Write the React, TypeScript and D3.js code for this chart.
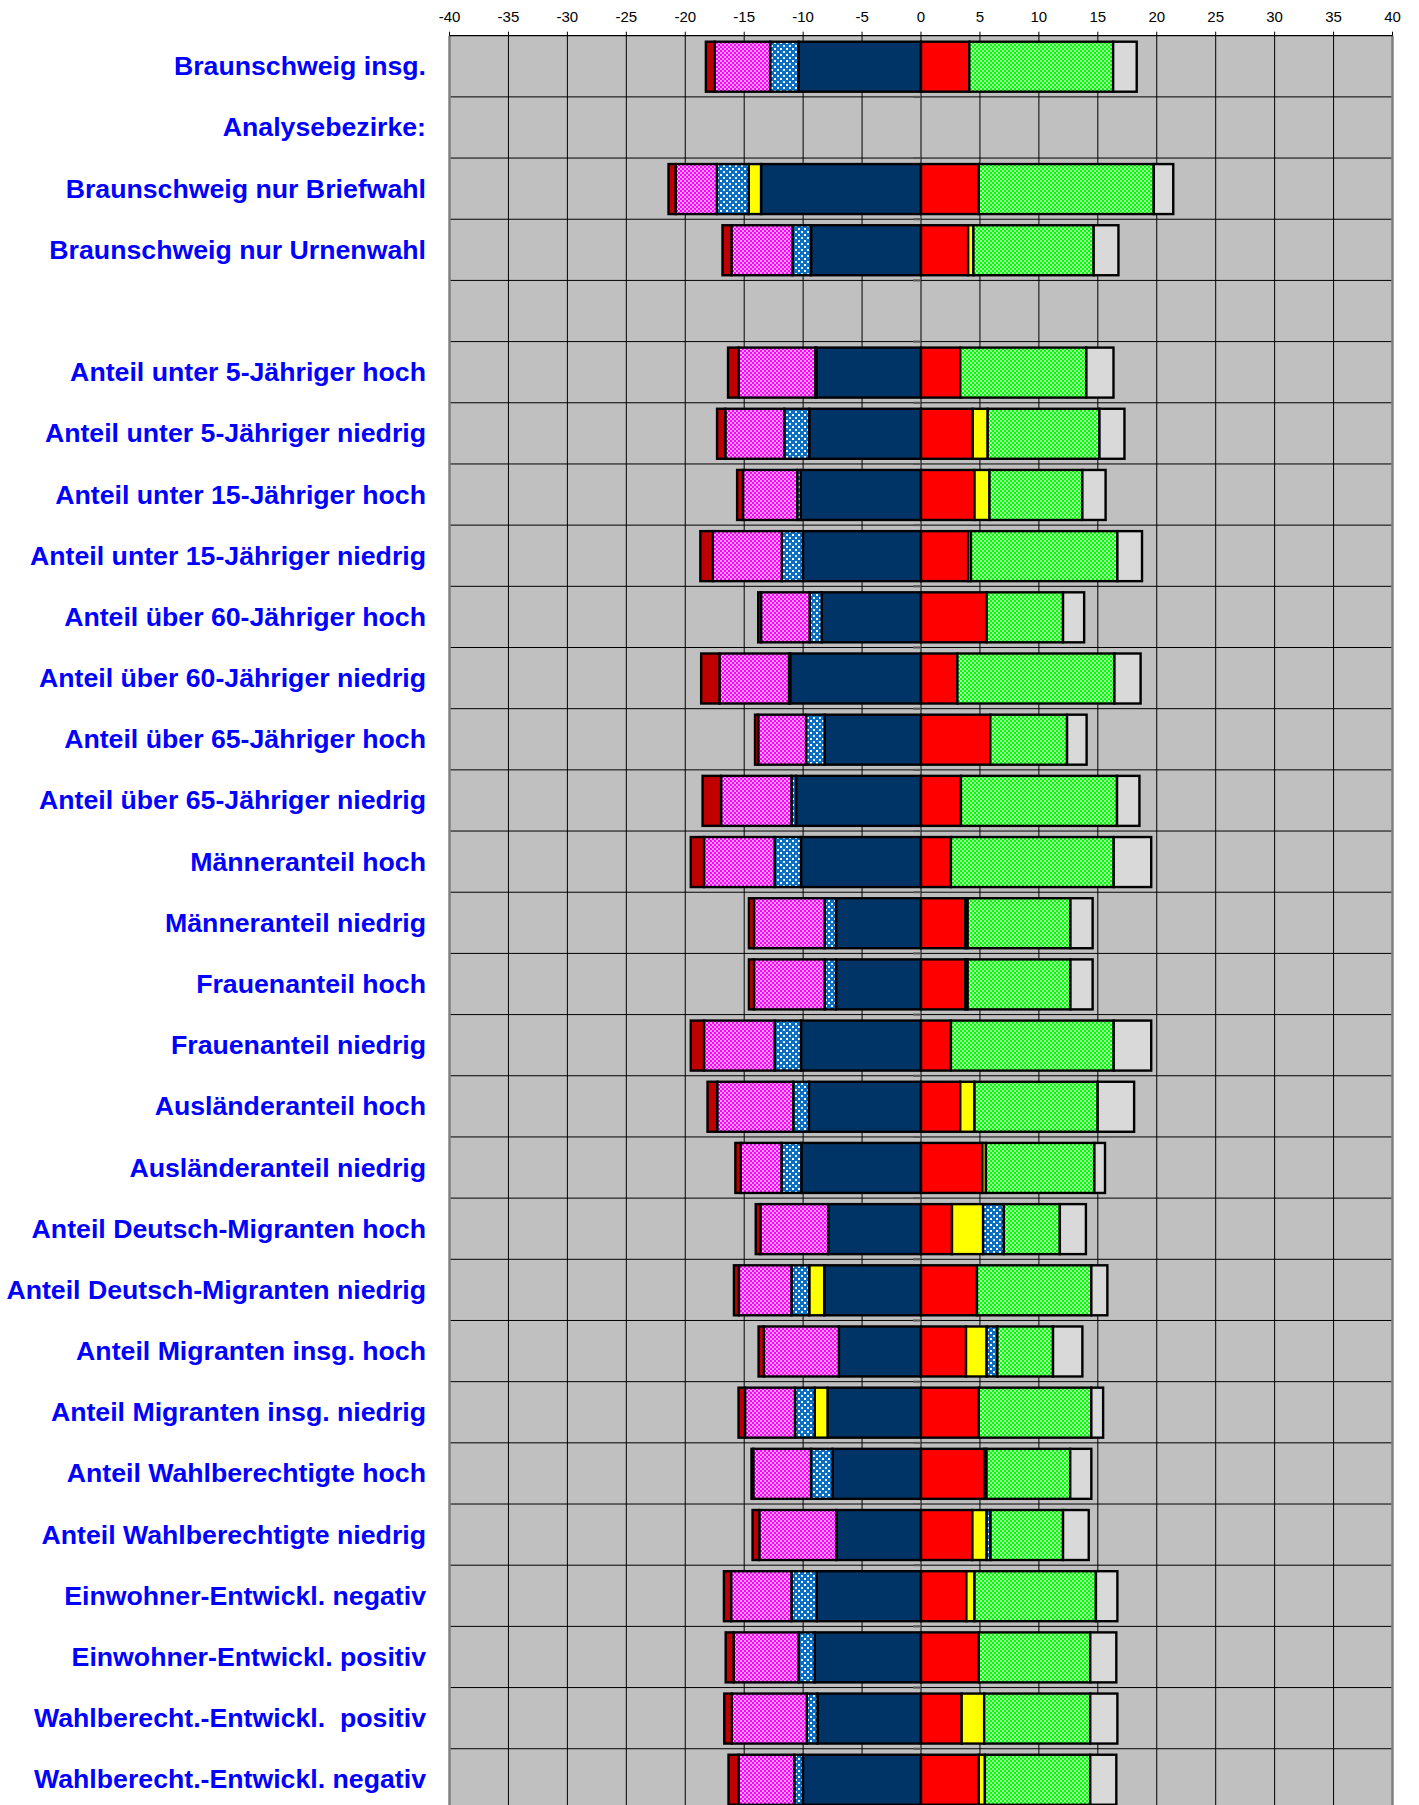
import { scaleLinear, scaleBand, stack, stackOffsetDiverging, range } from "d3";

// Zeilen (Kategorien) von oben nach unten; "" = Leerzeile
const categories = [
  "Braunschweig insg.",
  "Analysebezirke:",
  "Braunschweig nur Briefwahl",
  "Braunschweig nur Urnenwahl",
  "",
  "Anteil unter 5-Jähriger hoch",
  "Anteil unter 5-Jähriger niedrig",
  "Anteil unter 15-Jähriger hoch",
  "Anteil unter 15-Jähriger niedrig",
  "Anteil über 60-Jähriger hoch",
  "Anteil über 60-Jähriger niedrig",
  "Anteil über 65-Jähriger hoch",
  "Anteil über 65-Jähriger niedrig",
  "Männeranteil hoch",
  "Männeranteil niedrig",
  "Frauenanteil hoch",
  "Frauenanteil niedrig",
  "Ausländeranteil hoch",
  "Ausländeranteil niedrig",
  "Anteil Deutsch-Migranten hoch",
  "Anteil Deutsch-Migranten niedrig",
  "Anteil Migranten insg. hoch",
  "Anteil Migranten insg. niedrig",
  "Anteil Wahlberechtigte hoch",
  "Anteil Wahlberechtigte niedrig",
  "Einwohner-Entwickl. negativ",
  "Einwohner-Entwickl. positiv",
  "Wahlberecht.-Entwickl.  positiv",
  "Wahlberecht.-Entwickl. negativ",
];

// Gewinne/Verluste in Prozentpunkten, je Reihe (null = keine Balken)
const dunkelblau = [-10.4, null, -13.57, -9.33, null, -8.87, -9.48, -10.2, -10.02, -8.42, -11.1, -8.18, -10.6, -10.18, -7.21, -7.21, -10.18, -9.51, -10.15, -7.87, -8.21, -6.97, -7.93, -7.51, -7.18, -8.84, -9.02, -8.78, -10.02];
const rot = [4.1, null, 4.9, 4.0, null, 3.33, 4.39, 4.54, 4.0, 5.57, 3.09, 5.88, 3.39, 2.54, 3.76, 3.76, 2.54, 3.33, 5.21, 2.63, 4.75, 3.82, 4.9, 5.36, 4.36, 3.85, 4.9, 3.45, 4.9];
const gelb = [0, null, -1.05, 0.45, null, 0, 1.27, 1.27, 0.24, 0, 0, 0, 0, 0, 0.2, 0.2, 0, 1.21, 0.3, 2.64, -1.27, 1.75, -1.09, 0.2, 1.21, 0.69, 0, 1.91, 0.52];
const blauKariert = [-2.4, null, -2.7, -1.57, null, -0.1, -2.12, -0.3, -1.79, -1.03, -0.1, -1.57, -0.39, -2.24, -0.97, -0.97, -2.24, -1.33, -1.69, 1.76, -1.51, 0.91, -1.67, -1.82, 0.33, -2.15, -1.37, -0.91, -0.73];
const pink = [-4.7, null, -3.5, -5.18, null, -6.5, -5.0, -4.6, -5.85, -4.12, -5.9, -4.06, -5.97, -5.99, -5.99, -5.99, -5.99, -6.45, -3.45, -5.76, -4.46, -6.36, -4.24, -4.9, -6.54, -5.12, -5.51, -6.36, -4.73];
const gruen = [12.2, null, 14.85, 10.2, null, 10.7, 9.48, 7.88, 12.42, 6.48, 13.32, 6.51, 13.24, 13.81, 8.72, 8.72, 13.81, 10.45, 9.2, 4.75, 9.7, 4.72, 9.55, 7.1, 6.15, 10.3, 9.46, 9.0, 8.94];
const dunkelrot = [-0.75, null, -0.6, -0.76, null, -0.9, -0.7, -0.5, -1.06, -0.24, -1.55, -0.27, -1.57, -1.12, -0.43, -0.43, -1.12, -0.82, -0.46, -0.39, -0.42, -0.45, -0.55, -0.15, -0.57, -0.61, -0.67, -0.64, -0.85];
const grau = [2.0, null, 1.65, 2.1, null, 2.3, 2.12, 1.97, 2.09, 1.79, 2.22, 1.66, 1.9, 3.18, 1.88, 1.88, 3.18, 3.09, 0.9, 2.21, 1.36, 2.49, 1.0, 1.79, 2.18, 1.82, 2.21, 2.3, 2.21];

const xTicks = range(-40, 41, 5);

const series = [
  { key: "dunkelblau", values: dunkelblau, fill: "#003366" },
  { key: "rot", values: rot, fill: "#FF0000" },
  { key: "gelb", values: gelb, fill: "#FFFF00" },
  { key: "blauKariert", values: blauKariert, fill: "url(#patBlau)" },
  { key: "pink", values: pink, fill: "url(#patPink)" },
  { key: "gruen", values: gruen, fill: "url(#patGruen)" },
  { key: "dunkelrot", values: dunkelrot, fill: "#C00000" },
  { key: "grau", values: grau, fill: "#D9D9D9" },
];

const W = 1419;
const H = 1805;
const top = 35.7;
const rowH = 61.18;

export default function App() {
  const x = scaleLinear().domain([-40, 40]).range([449.5, 1392.5]);
  const y = scaleBand<number>()
    .domain(categories.map((_, i) => i))
    .range([top, top + categories.length * rowH]);

  const rows = categories.map((_, i) => {
    const r: Record<string, number> = {};
    series.forEach((s) => (r[s.key] = s.values[i] ?? 0));
    return r;
  });
  const stacked = stack<Record<string, number>>()
    .keys(series.map((s) => s.key))
    .offset(stackOffsetDiverging)(rows);

  const plotBottom = Math.min(H, top + categories.length * rowH);

  return (
    <div style={{ position: "absolute", left: 0, top: 0 }}>
      <svg width={W} height={H} style={{ display: "block", background: "#fff" }} fontFamily="'Liberation Sans', Arial, sans-serif">
        <defs>
          <pattern id="patPink" width="4" height="4" patternUnits="userSpaceOnUse">
            <rect width="4" height="4" fill="#FF00FF" />
            <rect width="2" height="2" fill="#FF9CFF" />
            <rect x="2" y="2" width="2" height="2" fill="#FF9CFF" />
          </pattern>
          <pattern id="patGruen" width="4" height="4" patternUnits="userSpaceOnUse">
            <rect width="4" height="4" fill="#00FF00" />
            <rect width="2" height="2" fill="#A0FFA0" />
            <rect x="2" y="2" width="2" height="2" fill="#A0FFA0" />
          </pattern>
          <pattern id="patBlau" width="6" height="6" patternUnits="userSpaceOnUse">
            <rect width="6" height="6" fill="#0A6FC2" />
            <rect width="2" height="2" fill="#FFFFFF" />
            <rect x="3" y="3" width="2" height="2" fill="#E0EEFF" />
          </pattern>
        </defs>

        {/* Plotfläche */}
        <rect x={x(-40)} y={top} width={x(40) - x(-40)} height={plotBottom - top} fill="#C0C0C0" />

        {/* horizontale Gitterlinien */}
        {categories.map((_, i) => (
          <line key={"h" + i} x1={x(-40)} x2={x(40)} y1={y(i)! + rowH} y2={y(i)! + rowH} stroke="#000" strokeWidth={1} />
        ))}
        {/* vertikale Gitterlinien */}
        {xTicks.slice(1, -1).map((t) => (
          <line key={"v" + t} x1={x(t)} x2={x(t)} y1={top} y2={plotBottom} stroke="#000" strokeWidth={1} />
        ))}
        {/* kleine Teilstriche der Kategorienachse bei 0 */}
        {categories.map((_, i) => (
          <line key={"c" + i} x1={x(0) - 8} x2={x(0)} y1={y(i)! + rowH} y2={y(i)! + rowH} stroke="#555" strokeWidth={2} />
        ))}

        {/* Balken */}
        {stacked.map((layer, si) => (
          <g key={layer.key} fill={series[si].fill} stroke="#000" strokeWidth={2.4}>
            {layer.map((d, i) => {
              const v = series[si].values[i];
              if (v == null || Math.abs(v) < 1e-9) return null;
              const x0 = x(Math.min(d[0], d[1]));
              const x1 = x(Math.max(d[0], d[1]));
              return <rect key={i} x={x0} y={y(i)! + 6} width={x1 - x0} height={50} />;
            })}
          </g>
        ))}

        {/* Rahmen links/rechts */}
        <line x1={x(-40)} x2={x(-40)} y1={top} y2={plotBottom} stroke="#808080" strokeWidth={2.5} />
        <line x1={x(40)} x2={x(40)} y1={top} y2={plotBottom} stroke="#808080" strokeWidth={2.5} />

        {/* Werteachse oben */}
        <line x1={x(-40)} x2={x(40)} y1={top} y2={top} stroke="#000" strokeWidth={1.3} />
        {xTicks.map((t) => (
          <g key={"t" + t}>
            <line x1={x(t)} x2={x(t)} y1={top - 4} y2={top} stroke="#000" strokeWidth={1} />
            <text x={x(t)} y={22} textAnchor="middle" fontSize={15} fill="#000">
              {t}
            </text>
          </g>
        ))}

        {/* Kategorienbeschriftung */}
        {categories.map((c, i) => (
          <text
            key={"l" + i}
            x={426}
            y={y(i)! + rowH / 2 + 9}
            textAnchor="end"
            fontSize={26.7}
            fontWeight="bold"
            fill="#0000FF"
            style={{ whiteSpace: "pre" }}
          >
            {c}
          </text>
        ))}
      </svg>
    </div>
  );
}
